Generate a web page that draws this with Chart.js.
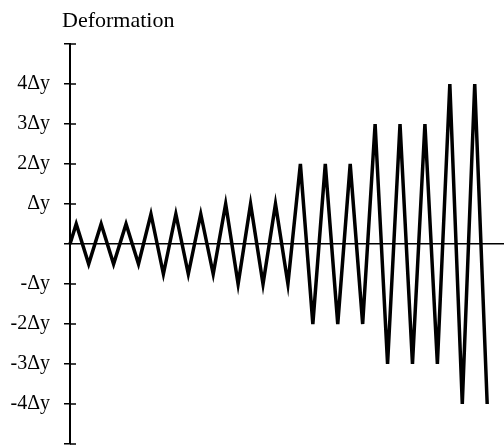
<!DOCTYPE html>
<html>
<head>
<meta charset="utf-8">
<script src="https://cdn.jsdelivr.net/npm/chart.js@4.4.0/dist/chart.umd.min.js"></script>
<style>
html, body { margin: 0; padding: 0; background: #fff; }
</style>
</head>
<body>
<canvas id="myChart" width="504" height="445"></canvas>
<script>
const ctx = document.getElementById('myChart').getContext('2d');

// loading steps (half cycles) and deformation in multiples of Δy
const steps = [0, 0.5, 1.5, 2.5, 3.5, 4.5, 5.5, 6.5, 7.5, 8.5, 9.5, 10.5, 11.5,
	12.5, 13.5, 14.5, 15.5, 16.5, 17.5, 18.5, 19.5, 20.5, 21.5, 22.5, 23.5,
	24.5, 25.5, 26.5, 27.5, 28.5, 29.5, 30.5, 31.5, 32.5, 33.5];
const deformation = [0,
	0.5, -0.5, 0.5, -0.5, 0.5, -0.5,
	0.75, -0.75, 0.75, -0.75, 0.75, -0.75,
	1, -1, 1, -1, 1, -1,
	2, -2, 2, -2, 2, -2,
	3, -3, 3, -3, 3, -3,
	4, -4, 4, -4];
const tickValues = [-5, -4, -3, -2, -1, 0, 1, 2, 3, 4, 5];
const tickLabels = ['', '-4Δy', '-3Δy', '-2Δy', '-Δy', '', 'Δy', '2Δy', '3Δy', '4Δy', ''];
const axisTitle = 'Deformation';

const serif = "'Liberation Serif', 'Times New Roman', serif";

// ticks cross the axis: draw the right half too, and the title above the axis
const axisExtras = {
	id: 'axisExtras',
	afterDraw(chart){
		const c = chart.ctx;
		const x0 = chart.scales.x.getPixelForValue(0);
		const yScale = chart.scales.y;
		c.save();
		c.strokeStyle = '#000';
		c.lineWidth = 1.5;
		yScale.ticks.forEach((t) => {
			if (t.value === 0) return;
			const py = yScale.getPixelForValue(t.value);
			c.beginPath();
			c.moveTo(x0, py);
			c.lineTo(x0 + 6, py);
			c.stroke();
		});
		c.fillStyle = '#000';
		c.font = '22px ' + serif;
		c.textAlign = 'left';
		c.textBaseline = 'alphabetic';
		c.fillText(axisTitle, x0 - 8, 27);
		c.restore();
	}
};

const myChart = new Chart(ctx, {
	type: 'line',
	data: {
		datasets: [{
			data: steps.map((s, i) => ({x: s, y: deformation[i]})),
			borderColor: '#000',
			borderWidth: 3.5,
			pointRadius: 0,
			tension: 0,
			clip: false
		}]
	},
	options: {
		responsive: false,
		animation: false,
		layout: {
			padding: {left: 0, right: 0, top: 44, bottom: 1}
		},
		plugins: {
			legend: {display: false},
			tooltip: {enabled: false},
			title: {display: false}
		},
		scales: {
			x: {
				type: 'linear',
				min: 0,
				max: 34.85,
				position: {y: 0},
				grid: {display: false},
				ticks: {display: false},
				border: {display: true, color: '#000', width: 1.5},
				afterFit: (scale) => {
					scale.paddingLeft = 0;
					scale.paddingRight = 0;
					scale.paddingTop = 0;
					scale.paddingBottom = 0;
				}
			},
			y: {
				type: 'linear',
				min: -5,
				max: 5,
				position: 'left',
				afterBuildTicks: (axis) => {
					axis.ticks = tickValues.map((v) => ({value: v}));
				},
				afterFit: (scale) => {
					scale.width = 70;
					scale.paddingTop = 0;
					scale.paddingBottom = 0;
				},
				grid: {
					display: true,
					drawOnChartArea: false,
					drawTicks: true,
					tickLength: 6,
					color: '#000',
					lineWidth: 1.5
				},
				border: {display: true, color: '#000', width: 2},
				ticks: {
					autoSkip: false,
					padding: 14,
					color: '#000',
					font: {family: serif, size: 20},
					callback: (v) => tickLabels[tickValues.indexOf(v)]
				}
			}
		}
	},
	plugins: [axisExtras]
});
</script>
</body>
</html>
